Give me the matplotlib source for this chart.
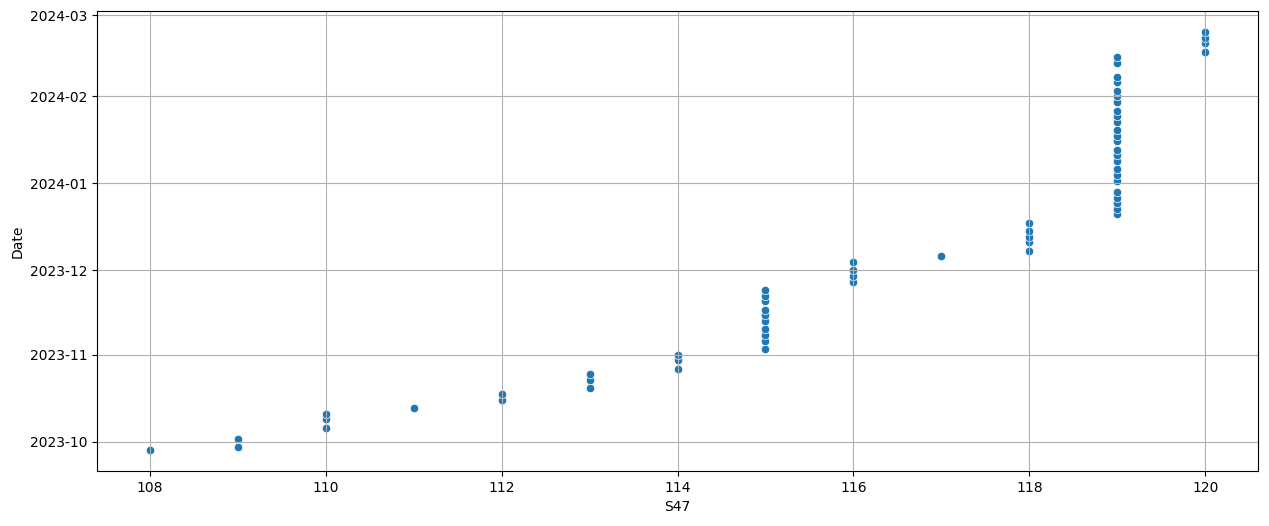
import pandas as pd
import matplotlib
matplotlib.use("Agg")
import matplotlib.pyplot as plt
import seaborn as sns

# S47 value for each group of dates
s47_108 = ["2023-09-28"]
s47_109 = ["2023-09-29", "2023-10-02"]
s47_110 = ["2023-10-06", "2023-10-09", "2023-10-11"]
s47_111 = ["2023-10-13"]
s47_112 = ["2023-10-16", "2023-10-18"]
s47_113 = ["2023-10-20", "2023-10-23", "2023-10-25"]
s47_114 = ["2023-10-27", "2023-10-30", "2023-11-01"]
s47_115 = ["2023-11-03", "2023-11-06", "2023-11-08", "2023-11-10", "2023-11-13",
           "2023-11-15", "2023-11-17", "2023-11-20", "2023-11-22", "2023-11-24"]
s47_116 = ["2023-11-27", "2023-11-29", "2023-12-01", "2023-12-04"]
s47_117 = ["2023-12-06"]
s47_118 = ["2023-12-08", "2023-12-11", "2023-12-13", "2023-12-15", "2023-12-18"]
s47_119 = ["2023-12-21", "2023-12-23", "2023-12-25", "2023-12-27", "2023-12-29",
           "2024-01-02", "2024-01-04", "2024-01-06", "2024-01-09", "2024-01-11",
           "2024-01-13", "2024-01-16", "2024-01-18", "2024-01-20", "2024-01-23",
           "2024-01-25", "2024-01-27", "2024-01-30", "2024-02-01", "2024-02-03",
           "2024-02-06", "2024-02-08", "2024-02-13", "2024-02-15"]
s47_120 = ["2024-02-17", "2024-02-20", "2024-02-22", "2024-02-24"]

groups = {108: s47_108, 109: s47_109, 110: s47_110, 111: s47_111,
          112: s47_112, 113: s47_113, 114: s47_114, 115: s47_115,
          116: s47_116, 117: s47_117, 118: s47_118, 119: s47_119,
          120: s47_120}

rows = [(k, d) for k, dates in groups.items() for d in dates]
df = pd.DataFrame(rows, columns=["S47", "Date"])
df["Date"] = pd.to_datetime(df["Date"])

fig, ax = plt.subplots(figsize=(12.69, 5.26), dpi=100)
fig.subplots_adjust(left=0.0765, right=0.9913, top=0.979, bottom=0.1046)

sns.scatterplot(data=df, x="S47", y="Date", ax=ax)
ax.grid(True)

fig.savefig("out.png", dpi=100)
